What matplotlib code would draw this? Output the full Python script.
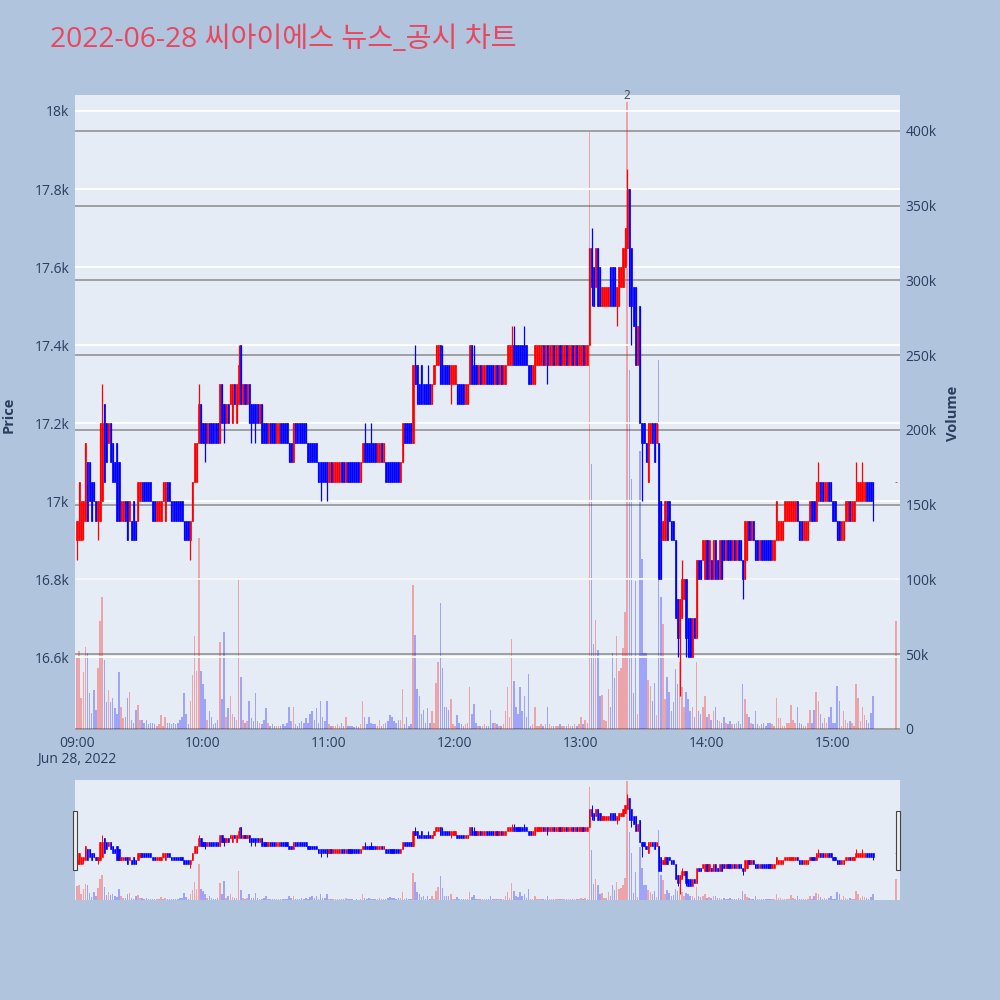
import numpy as np
import matplotlib
matplotlib.use("Agg")
import matplotlib.pyplot as plt
from matplotlib.patches import Rectangle

plt.rcParams["font.family"] = ["Open Sans", "Noto Sans CJK KR", "DejaVu Sans"]

# ---------------------------------------------------------------- text
TITLE = "2022-06-28 씨아이에스 뉴스_공시 차트"
SESSION_DATE = "Jun 28, 2022"
HOUR_LABELS = ["09:00", "10:00", "11:00", "12:00", "13:00", "14:00", "15:00"]
PRICE_TICKS = [16600, 16800, 17000, 17200, 17400, 17600, 17800, 18000]
PRICE_TICK_LABELS = ["16.6k", "16.8k", "17k", "17.2k", "17.4k", "17.6k", "17.8k", "18k"]
VOLUME_TICKS_K = [0, 50, 100, 150, 200, 250, 300, 350, 400]
VOLUME_TICK_LABELS = ["0", "50k", "100k", "150k", "200k", "250k", "300k", "350k", "400k"]
NEWS_TIME = "13:22"
NEWS_COUNT = "2"

# ------------------------------------------------- minute bars (KRW)
OPEN_09 = [16900, 16900, 16900, 16950, 16950, 17100, 17100, 17050, 17050, 17000,
           16950, 16950, 17000, 17250, 17200, 17150, 17200, 17150, 17100, 17150,
           17100, 16950, 16950, 17000, 17000, 16950, 16950, 17000, 16950, 16950,
           17000, 17050, 17050, 17050, 17050, 17050, 17000, 17000, 16950, 16950,
           16950, 17000, 16950, 17050, 17050, 17000, 17000, 17000, 17000, 17000,
           17000, 16950, 16950, 16950, 16900, 16950, 17050, 17050, 17150, 17250]
CLOSE_09 = [16950, 17050, 17000, 17000, 17150, 16950, 17000, 16950, 17000, 16950,
            17000, 17200, 17200, 17050, 17100, 17200, 17100, 17050, 17050, 16950,
            16950, 17000, 17000, 16950, 16900, 17000, 16900, 16900, 16900, 17050,
            17050, 17000, 17000, 17000, 17000, 17000, 16950, 16950, 17000, 17000,
            17000, 17050, 17050, 17000, 17000, 16950, 16950, 16950, 16950, 16950,
            16950, 16900, 16900, 16900, 16950, 17050, 17150, 17150, 17250, 17150]

OPEN_10 = [17200, 17200, 17150, 17200, 17200, 17200, 17200, 17200, 17150, 17300,
           17250, 17200, 17250, 17250, 17200, 17300, 17200, 17250, 17400, 17250,
           17300, 17250, 17300, 17250, 17250, 17250, 17250, 17200, 17250, 17200,
           17200, 17150, 17200, 17200, 17200, 17150, 17150, 17200, 17200, 17200,
           17200, 17150, 17150, 17100, 17200, 17200, 17200, 17200, 17200, 17200,
           17150, 17150, 17150, 17150, 17150, 17100, 17100, 17100, 17100, 17100]
CLOSE_10 = [17150, 17150, 17200, 17150, 17150, 17150, 17150, 17150, 17300, 17200,
            17200, 17250, 17200, 17300, 17300, 17250, 17300, 17350, 17250, 17300,
            17250, 17300, 17200, 17200, 17200, 17200, 17200, 17250, 17150, 17150,
            17150, 17200, 17150, 17150, 17150, 17200, 17200, 17150, 17150, 17150,
            17150, 17100, 17100, 17200, 17150, 17150, 17150, 17150, 17150, 17150,
            17100, 17100, 17100, 17100, 17100, 17050, 17050, 17050, 17050, 17050]

OPEN_11 = [17050, 17100, 17050, 17050, 17050, 17050, 17100, 17100, 17050, 17100,
           17100, 17100, 17100, 17100, 17100, 17050, 17100, 17150, 17150, 17150,
           17150, 17150, 17150, 17100, 17100, 17150, 17100, 17100, 17100, 17100,
           17100, 17100, 17100, 17100, 17050, 17100, 17200, 17200, 17200, 17200,
           17150, 17350, 17350, 17300, 17350, 17300, 17300, 17300, 17300, 17250,
           17300, 17350, 17350, 17400, 17350, 17350, 17350, 17350, 17300, 17300]
CLOSE_11 = [17100, 17050, 17100, 17100, 17100, 17100, 17050, 17050, 17100, 17050,
            17050, 17050, 17050, 17050, 17050, 17100, 17150, 17100, 17100, 17100,
            17100, 17100, 17100, 17150, 17150, 17100, 17150, 17050, 17050, 17050,
            17050, 17050, 17050, 17050, 17100, 17200, 17150, 17150, 17150, 17150,
            17350, 17300, 17250, 17250, 17250, 17250, 17250, 17250, 17250, 17300,
            17350, 17400, 17400, 17300, 17300, 17300, 17300, 17300, 17350, 17350]

OPEN_12 = [17300, 17300, 17300, 17300, 17300, 17250, 17250, 17300, 17400, 17350,
           17350, 17300, 17350, 17300, 17300, 17350, 17350, 17350, 17350, 17300,
           17350, 17300, 17350, 17300, 17300, 17350, 17350, 17350, 17400, 17400,
           17400, 17400, 17400, 17400, 17400, 17350, 17350, 17300, 17300, 17350,
           17350, 17350, 17400, 17350, 17400, 17350, 17350, 17400, 17350, 17350,
           17400, 17350, 17350, 17400, 17350, 17350, 17400, 17350, 17400, 17350]
CLOSE_12 = [17350, 17250, 17250, 17250, 17250, 17300, 17300, 17400, 17300, 17300,
            17300, 17350, 17300, 17350, 17350, 17300, 17300, 17300, 17300, 17350,
            17300, 17350, 17300, 17350, 17350, 17400, 17400, 17400, 17350, 17350,
            17350, 17350, 17350, 17350, 17350, 17300, 17300, 17350, 17400, 17400,
            17400, 17400, 17350, 17400, 17350, 17400, 17400, 17350, 17400, 17400,
            17350, 17400, 17400, 17350, 17400, 17400, 17350, 17400, 17350, 17400]

OPEN_13 = [17350, 17400, 17350, 17350, 17400, 17650, 17600, 17550, 17650, 17600,
           17500, 17500, 17500, 17500, 17600, 17600, 17600, 17500, 17500, 17550,
           17550, 17600, 17650, 17800, 17650, 17550, 17550, 17350, 17500, 17200,
           17200, 17150, 17050, 17150, 17200, 17200, 17150, 17150, 17000, 16900,
           16900, 17000, 17000, 16950, 16950, 16900, 16750, 16650, 16700, 16750,
           16800, 16700, 16700, 16600, 16700, 16650, 16850, 16850, 16850, 16800]
CLOSE_13 = [17400, 17350, 17400, 17400, 17650, 17550, 17500, 17650, 17500, 17500,
            17550, 17550, 17550, 17550, 17500, 17500, 17500, 17550, 17600, 17600,
            17650, 17700, 17800, 17500, 17500, 17450, 17350, 17450, 17200, 17150,
            17150, 17100, 17200, 17200, 17150, 17100, 17200, 16800, 16800, 16950,
            17000, 16900, 16950, 16900, 16900, 16700, 16650, 16750, 16800, 16800,
            16650, 16600, 16600, 16700, 16650, 16850, 16800, 16800, 16900, 16900]

OPEN_14 = [16900, 16800, 16850, 16800, 16900, 16850, 16800, 16900, 16900, 16850,
           16900, 16900, 16850, 16900, 16850, 16900, 16900, 16850, 16800, 16850,
           16950, 16900, 16950, 16900, 16900, 16850, 16900, 16900, 16900, 16900,
           16900, 16850, 16850, 16900, 16900, 16900, 16900, 16950, 16950, 16950,
           16950, 16950, 16950, 17000, 16950, 16950, 16900, 16900, 16900, 16950,
           17000, 17000, 16950, 17000, 17050, 17050, 17000, 17000, 17050, 17050]
CLOSE_14 = [16800, 16900, 16800, 16900, 16800, 16800, 16900, 16800, 16850, 16900,
            16850, 16850, 16900, 16850, 16900, 16850, 16850, 16800, 16950, 16950,
            16900, 16950, 16900, 16850, 16850, 16900, 16850, 16850, 16850, 16850,
            16850, 16900, 16900, 17000, 16950, 16950, 16950, 17000, 17000, 17000,
            17000, 17000, 17000, 16950, 16900, 16900, 16950, 16950, 16950, 17000,
            16950, 16950, 17050, 17050, 17000, 17000, 17050, 17050, 17000, 17000]

# 15:00-15:19 continuous trading, then the 15:30 closing auction bar
OPEN_15 = [17000, 17000, 16950, 16950, 16900, 16900, 16950, 16950, 17000, 16950,
           16950, 17000, 17000, 17000, 17000, 17000, 17050, 17050, 17050, 17050,
           17050]
CLOSE_15 = [16950, 16950, 16900, 16900, 16950, 16950, 17000, 17000, 16950, 17000,
            17000, 17050, 17050, 17050, 17050, 17050, 17000, 17000, 17000, 17000,
            17050]
CLOSING_AUCTION = "15:30"

# wicks reaching beyond the candle body
HIGH_WICKS = {"09:12": 17300, "09:58": 17300, "10:17": 17400, "11:17": 17200,
              "11:20": 17200, "11:41": 17400, "11:47": 17350, "11:54": 17400,
              "12:09": 17400, "12:27": 17450, "12:28": 17450, "12:33": 17450,
              "13:05": 17700, "13:22": 17850, "13:48": 16850, "14:53": 17100,
              "15:11": 17100, "15:14": 17100}
LOW_WICKS = {"09:00": 16850, "09:03": 16900, "09:10": 16900, "09:54": 16850,
             "10:01": 17100, "10:10": 17150, "10:23": 17150, "10:25": 17150,
             "10:56": 17000, "10:59": 17000, "11:58": 17250, "12:44": 17300,
             "13:05": 17500, "13:17": 17450, "13:24": 17400, "13:29": 17000,
             "13:46": 16600, "13:47": 16500, "13:50": 16600, "14:17": 16750,
             "15:19": 16950}

# ------------------------------------------ volume (thousand shares)
VOLUME_09_K = [48, 52, 21, 38, 55, 51, 24, 11, 26, 13,
               41, 72, 88, 46, 18, 26, 18, 21, 14, 10,
               38, 15, 7, 8, 21, 25, 6, 4, 13, 16,
               6, 6, 4, 6, 3, 4, 4, 3, 2, 3,
               9, 2, 8, 4, 4, 3, 4, 3, 4, 6,
               8, 24, 10, 3, 19, 36, 62, 39, 128, 39]
VOLUME_10_K = [30, 20, 6, 12, 8, 3, 4, 6, 58, 20,
               65, 8, 14, 22, 10, 8, 6, 101, 35, 6,
               4, 5, 19, 7, 5, 24, 5, 4, 3, 6,
               14, 4, 2, 3, 2, 2, 2, 2, 3, 2,
               4, 15, 5, 15, 3, 2, 4, 5, 4, 7,
               4, 10, 12, 6, 14, 4, 19, 8, 5, 19]
VOLUME_11_K = [3, 2, 2, 2, 3, 2, 4, 2, 8, 2,
               2, 2, 1, 2, 1, 3, 19, 8, 3, 8,
               4, 3, 3, 2, 6, 2, 3, 4, 5, 9,
               8, 5, 4, 6, 6, 27, 3, 8, 2, 3,
               96, 63, 27, 22, 10, 13, 4, 14, 4, 12,
               4, 31, 45, 84, 41, 15, 15, 13, 20, 3]
VOLUME_12_K = [2, 9, 4, 3, 2, 3, 4, 28, 10, 17,
               4, 2, 2, 2, 3, 2, 2, 13, 4, 4,
               3, 2, 2, 3, 12, 28, 8, 60, 32, 15,
               10, 28, 12, 22, 8, 37, 2, 3, 15, 2,
               2, 3, 2, 3, 15, 3, 2, 2, 2, 2,
               3, 2, 2, 2, 3, 2, 2, 3, 2, 3]
VOLUME_13_K = [8, 3, 6, 4, 399, 177, 57, 73, 53, 22,
               23, 6, 5, 27, 15, 51, 34, 62, 39, 41,
               54, 78, 419, 240, 167, 24, 99, 10, 186, 114,
               51, 51, 33, 29, 19, 31, 9, 247, 88, 70,
               20, 35, 25, 12, 18, 40, 30, 45, 28, 15,
               25, 20, 12, 15, 8, 45, 12, 10, 15, 22]
VOLUME_14_K = [8, 10, 6, 12, 15, 6, 5, 4, 8, 4,
               3, 5, 3, 3, 4, 5, 3, 30, 20, 10,
               8, 4, 3, 12, 3, 2, 3, 4, 2, 4,
               4, 3, 2, 21, 7, 7, 2, 2, 4, 4,
               16, 6, 4, 15, 4, 3, 2, 2, 4, 13,
               4, 13, 25, 19, 10, 4, 7, 4, 8, 15]
VOLUME_15_K = [4, 4, 29, 19, 2, 12, 6, 4, 5, 4,
               2, 30, 21, 5, 15, 9, 6, 4, 11, 22,
               72]

# ---------------------------------------------------------- styling
FIG_BG = "#B0C4DE"
PLOT_BG = "#E5ECF6"
UP_COLOR = "#FF0000"
DOWN_COLOR = "#0000FF"
TEXT_COLOR = "#2a3f5f"
TITLE_COLOR = "#E8475F"


def to_minute(hhmm):
    h, m = map(int, hhmm.split(":"))
    return (h - 9) * 60 + m


opens = np.array(OPEN_09 + OPEN_10 + OPEN_11 + OPEN_12 + OPEN_13 + OPEN_14 + OPEN_15, float)
closes = np.array(CLOSE_09 + CLOSE_10 + CLOSE_11 + CLOSE_12 + CLOSE_13 + CLOSE_14 + CLOSE_15, float)
volumes = np.array(VOLUME_09_K + VOLUME_10_K + VOLUME_11_K + VOLUME_12_K
                   + VOLUME_13_K + VOLUME_14_K + VOLUME_15_K, float)
n_continuous = len(opens) - 1
minutes = np.append(np.arange(n_continuous), to_minute(CLOSING_AUCTION)).astype(float)

highs = np.maximum(opens, closes)
lows = np.minimum(opens, closes)
index_of = {int(m): i for i, m in enumerate(minutes)}
for t, v in HIGH_WICKS.items():
    highs[index_of[to_minute(t)]] = v
for t, v in LOW_WICKS.items():
    lows[index_of[to_minute(t)]] = v

rising = closes >= opens
candle_colors = np.where(rising, UP_COLOR, DOWN_COLOR)
volume_colors = [(1, 0, 0, 0.3) if r else (0, 0, 1, 0.3) for r in rising]

X_RANGE = (-0.95, 391.9)
PRICE_RANGE = (16413, 18041)
VOLUME_RANGE = (-0.7, 424)


def draw_series(ax_price, ax_volume, wick_lw, body_w, edge_lw, vol_w):
    ax_volume.bar(minutes, volumes, width=vol_w, color=volume_colors,
                  linewidth=0, zorder=2)
    ax_price.vlines(minutes, lows, highs, colors=candle_colors,
                    linewidth=wick_lw, zorder=3)
    ax_price.bar(minutes, np.abs(closes - opens), bottom=np.minimum(opens, closes),
                 width=body_w, color=candle_colors, edgecolor=candle_colors,
                 linewidth=edge_lw, zorder=4)
    for a in (ax_price, ax_volume):
        a.set_xlim(*X_RANGE)
        for s in a.spines.values():
            s.set_visible(False)
    ax_price.set_ylim(*PRICE_RANGE)
    ax_volume.set_ylim(*VOLUME_RANGE)


fig = plt.figure(figsize=(10, 10), dpi=100)
fig.patch.set_facecolor(FIG_BG)

# ------------------------------------------------------ main panel
ax_p = fig.add_axes([0.075, 0.27, 0.825, 0.635])
ax_v = ax_p.twinx()
ax_p.set_zorder(2)
ax_v.set_zorder(1)
ax_p.patch.set_visible(False)
ax_v.patch.set_visible(True)
ax_v.patch.set_facecolor(PLOT_BG)

draw_series(ax_p, ax_v, wick_lw=0.9, body_w=0.5, edge_lw=0.5, vol_w=0.7)

ax_p.set_axisbelow(True)
ax_p.yaxis.grid(True, color="white", linewidth=1.3, zorder=0)
ax_v.yaxis.grid(True, color="#999999", linewidth=1.3, zorder=0)
ax_p.xaxis.grid(False)

ax_p.set_yticks(PRICE_TICKS)
ax_p.set_yticklabels(PRICE_TICK_LABELS)
ax_v.set_yticks(VOLUME_TICKS_K)
ax_v.set_yticklabels(VOLUME_TICK_LABELS)

hour_pos = [i * 60 for i in range(len(HOUR_LABELS))]
xlabels = list(HOUR_LABELS)
xlabels[0] = HOUR_LABELS[0] + "\n" + SESSION_DATE
ax_p.set_xticks(hour_pos)
ax_p.set_xticklabels(xlabels, linespacing=1.15)

for a in (ax_p, ax_v):
    a.tick_params(axis="both", length=0, labelsize=10, labelcolor=TEXT_COLOR, pad=4)

ax_v.text(to_minute(NEWS_TIME), volumes[index_of[to_minute(NEWS_TIME)]], NEWS_COUNT,
          ha="center", va="bottom", fontsize=8.5, color="#444444", zorder=6)

fig.text(0.05, 0.96, TITLE, fontsize=20.3, color=TITLE_COLOR, ha="left", va="center")
fig.text(0.009, 0.585, "Price", rotation=90, fontsize=10.5, fontweight="bold",
         color=TEXT_COLOR, ha="center", va="center")
fig.text(0.953, 0.587, "Volume", rotation=90, fontsize=10.5, fontweight="bold",
         color=TEXT_COLOR, ha="center", va="center")

# ------------------------------------------------------ range slider
ax_s = fig.add_axes([0.075, 0.10, 0.825, 0.12])
ax_sv = ax_s.twinx()
ax_s.set_zorder(2)
ax_sv.set_zorder(1)
ax_s.patch.set_visible(False)
ax_sv.patch.set_visible(True)
ax_sv.patch.set_facecolor(PLOT_BG)
draw_series(ax_s, ax_sv, wick_lw=0.7, body_w=0.6, edge_lw=0.4, vol_w=0.7)
for a in (ax_s, ax_sv):
    a.set_xticks([])
    a.set_yticks([])

for x0 in (0.0725, 0.8955):
    fig.patches.append(Rectangle((x0, 0.130), 0.0045, 0.059, transform=fig.transFigure,
                                 facecolor="#eeeeee", edgecolor="#444444",
                                 linewidth=0.8, zorder=10))

fig.savefig("out.png", dpi=100, facecolor=FIG_BG)
